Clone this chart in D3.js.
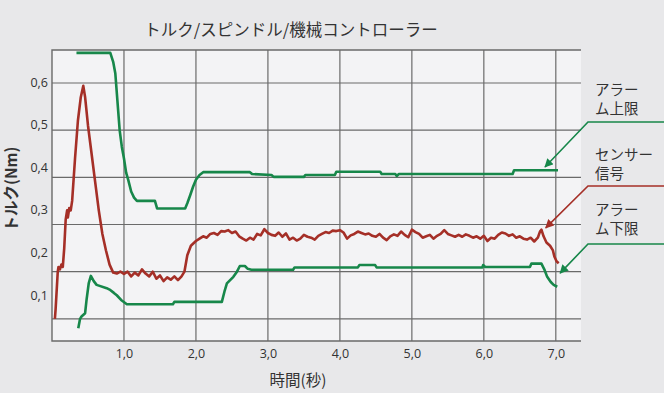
<!DOCTYPE html>
<html>
<head>
<meta charset="utf-8">
<script src="https://cdn.jsdelivr.net/npm/d3@7"></script>
<style>
  html, body { margin: 0; padding: 0; background: #e8e8ea; }
  svg { display: block; font-family: "Noto Sans CJK JP", "Noto Sans", sans-serif; }
</style>
</head>
<body>
<div id="chart"></div>
<script>
// ---- データ ----
const chartTitle = "トルク/スピンドル/機械コントローラー";
const xTitle = "時間(秒)";
const yTitle = "トルク(Nm)";
const xTicks = [1, 2, 3, 4, 5, 6, 7];
const yTicks = [0.1, 0.2, 0.3, 0.4, 0.5, 0.6];

// センサー信号 [秒, Nm]
const sensorSignal = [
  [0.04,0.10],[0.05,0.12],[0.08,0.20],[0.09,0.21],[0.11,0.205],[0.13,0.215],[0.15,0.21],[0.17,0.25],
  [0.19,0.31],[0.21,0.33],[0.22,0.315],[0.24,0.335],[0.26,0.33],[0.28,0.35],[0.32,0.44],[0.36,0.52],
  [0.40,0.57],[0.435,0.594],[0.46,0.57],[0.50,0.51],[0.55,0.45],[0.60,0.39],[0.65,0.33],[0.70,0.28],
  [0.75,0.245],[0.80,0.215],[0.85,0.198],[0.90,0.196],[0.95,0.20],[1.00,0.195],[1.05,0.20],[1.10,0.19],
  [1.15,0.198],[1.20,0.192],[1.25,0.205],[1.30,0.196],[1.35,0.19],[1.40,0.20],[1.45,0.185],[1.50,0.192],
  [1.55,0.18],[1.60,0.188],[1.65,0.183],[1.70,0.19],[1.75,0.182],[1.80,0.19],[1.84,0.20],[1.88,0.235],
  [1.93,0.255],[2.00,0.265],[2.05,0.27],[2.10,0.275],[2.15,0.272],[2.20,0.28],[2.25,0.282],[2.30,0.278],
  [2.35,0.286],[2.40,0.285],[2.45,0.288],[2.50,0.282],[2.55,0.285],[2.60,0.275],[2.65,0.27],[2.70,0.266],
  [2.75,0.272],[2.80,0.268],[2.85,0.28],[2.90,0.277],[2.95,0.29],[3.00,0.282],[3.05,0.278],[3.10,0.276],
  [3.15,0.283],[3.20,0.274],[3.25,0.281],[3.30,0.268],[3.35,0.272],[3.40,0.266],[3.45,0.27],[3.50,0.278],
  [3.55,0.274],[3.60,0.272],[3.65,0.268],[3.70,0.276],[3.75,0.28],[3.80,0.284],[3.85,0.282],[3.90,0.287],
  [3.95,0.286],[4.00,0.288],[4.05,0.283],[4.10,0.27],[4.15,0.277],[4.20,0.28],[4.25,0.285],[4.30,0.282],
  [4.35,0.279],[4.40,0.281],[4.45,0.276],[4.50,0.274],[4.55,0.28],[4.60,0.272],[4.65,0.267],[4.70,0.275],
  [4.75,0.279],[4.80,0.276],[4.85,0.285],[4.90,0.278],[4.95,0.273],[5.00,0.289],[5.05,0.284],[5.10,0.28],
  [5.15,0.272],[5.20,0.275],[5.25,0.278],[5.30,0.27],[5.35,0.276],[5.40,0.28],[5.45,0.288],[5.50,0.28],
  [5.55,0.277],[5.60,0.274],[5.65,0.278],[5.70,0.274],[5.75,0.279],[5.80,0.276],[5.85,0.272],[5.90,0.275],
  [5.95,0.27],[6.00,0.276],[6.05,0.265],[6.10,0.272],[6.15,0.27],[6.20,0.278],[6.25,0.283],[6.30,0.281],
  [6.35,0.276],[6.40,0.279],[6.45,0.272],[6.50,0.275],[6.55,0.27],[6.60,0.268],[6.65,0.272],[6.70,0.264],
  [6.75,0.272],[6.78,0.285],[6.80,0.289],[6.83,0.275],[6.87,0.262],[6.92,0.255],[6.96,0.245],[6.98,0.232],
  [7.01,0.222],[7.04,0.218]
];

// アラーム上限
const alarmUpper = [
  [0.34,0.664],[0.81,0.664],[0.85,0.645],[0.88,0.62],[0.91,0.56],[0.94,0.50],[0.97,0.465],[1.00,0.44],
  [1.03,0.41],[1.06,0.394],[1.10,0.37],[1.14,0.357],[1.18,0.35],[1.43,0.35],[1.46,0.334],[1.85,0.334],
  [1.88,0.345],[1.92,0.362],[1.96,0.38],[2.00,0.395],[2.05,0.405],[2.10,0.411],[2.75,0.411],[2.78,0.407],
  [3.05,0.405],[3.08,0.401],[3.50,0.401],[3.52,0.405],[3.93,0.405],[3.95,0.412],[4.56,0.412],[4.58,0.407],
  [4.77,0.407],[4.79,0.403],[4.82,0.407],[6.40,0.407],[6.42,0.415],[7.03,0.415]
];

// アラーム下限
const alarmLower = [
  [0.365,0.08],[0.39,0.10],[0.41,0.105],[0.46,0.112],[0.48,0.14],[0.51,0.175],[0.54,0.191],[0.58,0.18],
  [0.62,0.172],[0.76,0.165],[0.80,0.162],[0.86,0.155],[0.90,0.15],[0.96,0.14],[1.04,0.131],[1.68,0.131],
  [1.70,0.136],[2.36,0.136],[2.40,0.16],[2.43,0.175],[2.52,0.189],[2.57,0.20],[2.61,0.212],[2.68,0.212],
  [2.72,0.206],[2.77,0.204],[3.35,0.204],[3.37,0.209],[4.25,0.209],[4.27,0.214],[4.49,0.214],[4.51,0.209],
  [5.98,0.209],[5.99,0.214],[6.02,0.21],[6.64,0.21],[6.66,0.217],[6.80,0.217],[6.84,0.205],[6.88,0.189],
  [6.93,0.178],[6.97,0.172],[7.02,0.168]
];

// 凡例ラベルと矢印の先（データ座標）
const legendLabels = [["アラー", "ム上限"], ["センサー", "信号"], ["アラー", "ム下限"]];
const legendTips = [[6.85, 0.422], [6.86, 0.293], [7.06, 0.197]];

// ---- 設定 ----
const W = 664, H = 393;
const plot = { left: 52, right: 581, top: 50, bottom: 341 };
const green = "#17874a", red = "#a52f27", grid = "#6a6a6a";

const svg = d3.select("#chart").append("svg")
  .attr("width", W).attr("height", H);

const x = d3.scaleLinear().domain([0, 7.35]).range([plot.left, plot.right]);
const y = d3.scaleLinear().domain([0.053, 0.67]).range([plot.bottom, plot.top]);
// 目盛ラベルは元図と同じく少しずれた位置
const yLabel = d3.scaleLinear().domain([0.1, 0.6]).range([295, 82]);

svg.append("defs").selectAll("marker")
  .data([["arr-green", green], ["arr-red", red]])
  .join("marker")
  .attr("id", d => d[0])
  .attr("viewBox", "0 -5 10 10")
  .attr("refX", 9)
  .attr("markerWidth", 5.5)
  .attr("markerHeight", 5.5)
  .attr("orient", "auto")
  .append("path")
  .attr("d", "M0,-5L10,0L0,5Z")
  .attr("fill", d => d[1]);

// 背景
svg.append("rect")
  .attr("x", plot.left).attr("y", plot.top)
  .attr("width", plot.right - plot.left).attr("height", plot.bottom - plot.top)
  .attr("fill", "#f3f3f5");

// グリッド
svg.append("g").selectAll("line")
  .data(yTicks)
  .join("line")
  .attr("x1", plot.left).attr("x2", plot.right)
  .attr("y1", d => y(d)).attr("y2", d => y(d))
  .attr("stroke", grid).attr("stroke-width", 1.2);

svg.append("g").selectAll("line")
  .data(xTicks)
  .join("line")
  .attr("x1", d => x(d)).attr("x2", d => x(d))
  .attr("y1", plot.top).attr("y2", plot.bottom)
  .attr("stroke", grid).attr("stroke-width", 1.2);

// 枠線（上・左・下）
svg.append("path")
  .attr("d", `M${plot.right},${plot.top}H${plot.left}V${plot.bottom}H${plot.right}`)
  .attr("fill", "none").attr("stroke", grid).attr("stroke-width", 1.4);

// 軸ラベル
const xAxis = svg.append("g")
  .attr("transform", `translate(0,${plot.bottom})`)
  .call(d3.axisBottom(x).tickValues(xTicks).tickSize(0).tickPadding(8)
    .tickFormat(d => d3.format(".1f")(d).replace(".", ",")));
xAxis.select(".domain").remove();
xAxis.selectAll("text").attr("font-size", 12.5).attr("fill", "#333")
  .attr("font-family", "'Open Sans', 'Noto Sans', sans-serif");

const yAxis = svg.append("g")
  .attr("transform", `translate(${plot.left - 4},0)`)
  .call(d3.axisLeft(yLabel).tickValues(yTicks).tickSize(0).tickPadding(0)
    .tickFormat(d => d3.format(".1f")(d).replace(".", ",")));
yAxis.select(".domain").remove();
yAxis.selectAll("text").attr("font-size", 12.5).attr("fill", "#333")
  .attr("font-family", "'Open Sans', 'Noto Sans', sans-serif");

// タイトル
svg.append("text")
  .attr("x", 291).attr("y", 36)
  .attr("text-anchor", "middle")
  .attr("font-size", 16.5).attr("fill", "#333")
  .text(chartTitle);

svg.append("text")
  .attr("x", 298).attr("y", 386)
  .attr("text-anchor", "middle")
  .attr("font-size", 15.5).attr("fill", "#333")
  .text(xTitle);

svg.append("text")
  .attr("transform", "translate(17,189) rotate(-90)")
  .attr("text-anchor", "middle")
  .attr("font-size", 15.5).attr("font-weight", "bold").attr("fill", "#333")
  .text(yTitle);

// 線
const line = d3.line().x(d => x(d[0])).y(d => y(d[1]));
[[alarmUpper, green], [alarmLower, green], [sensorSignal, red]].forEach(([data, color]) => {
  svg.append("path")
    .datum(data)
    .attr("d", line)
    .attr("fill", "none")
    .attr("stroke", color)
    .attr("stroke-width", 2.6)
    .attr("stroke-linejoin", "round");
});

// 凡例の引き出し線
const legendY = [122, 186, 244];       // 水平線の高さ
const labelTop = [95, 160, 215];       // 1行目のベースライン
const legendColors = [green, red, green];
legendLabels.forEach((lines, i) => {
  const tip = legendTips[i];
  svg.append("path")
    .attr("d", `M${W},${legendY[i]}H588L${x(tip[0])},${y(tip[1])}`)
    .attr("fill", "none")
    .attr("stroke", legendColors[i])
    .attr("stroke-width", 1.6)
    .attr("marker-end", `url(#${legendColors[i] === red ? "arr-red" : "arr-green"})`);
  // 2行を1つのtextにまとめる
  svg.append("text")
    .attr("x", 595).attr("y", labelTop[i])
    .attr("font-size", 14.5).attr("fill", "#333")
    .selectAll("tspan")
    .data(lines)
    .join("tspan")
    .attr("x", 595)
    .attr("dy", (d, j) => j === 0 ? 0 : 18.5)
    .text(d => d);
});
</script>
</body>
</html>
